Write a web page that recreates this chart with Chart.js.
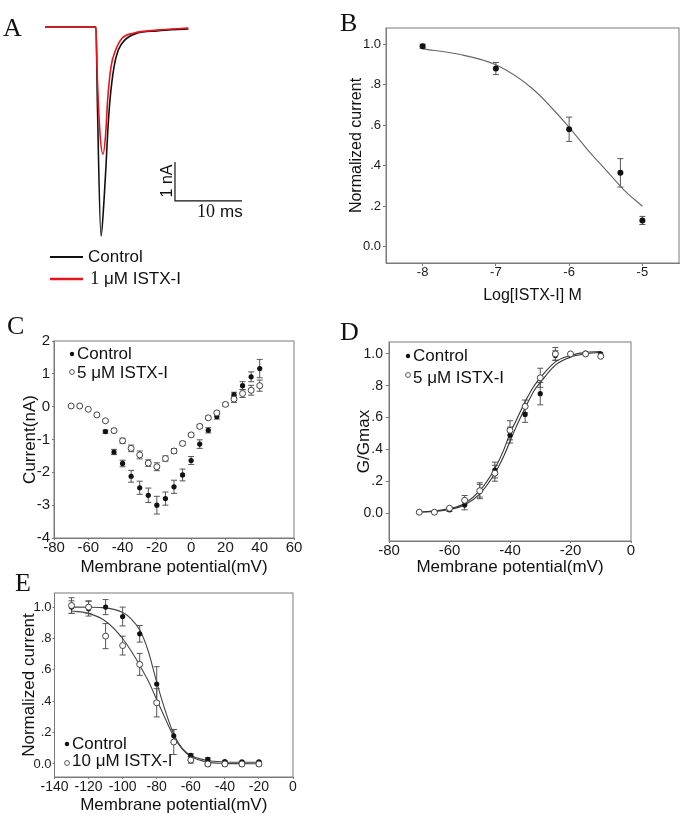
<!DOCTYPE html>
<html>
<head>
<meta charset="utf-8">
<script src="https://cdn.jsdelivr.net/npm/chart.js@4.4.1/dist/chart.umd.min.js"></script>
<style>
  html, body { margin: 0; background: #fff; }
  #page { position: relative; width: 685px; height: 819px; overflow: hidden; }
  #page canvas { position: absolute; left: 0; top: 0; }
</style>
</head>
<body>
<div id="page">
  <canvas id="panelA" width="685" height="819"></canvas>
  <canvas id="panelB" width="685" height="819"></canvas>
  <canvas id="panelC" width="685" height="819"></canvas>
  <canvas id="panelD" width="685" height="819"></canvas>
  <canvas id="panelE" width="685" height="819"></canvas>
</div>
<script>
// ---- A: sodium current traces (time in ms, current in nA)
var traceTimeCtrl = [0, 7.61, 7.81, 8.36, 8.81, 9.1, 9.35, 9.7, 10.3, 10.94, 11.94, 13.7, 16.7, 21.4];
var traceCtrl = [0, 0, -1.87, -5.36, -4.44, -3.58, -2.73, -1.87, -1.02, -0.59, -0.33, -0.16, -0.1, -0.05];
var traceTimeToxin = [0, 7.61, 7.76, 8.21, 8.66, 9.06, 9.35, 9.85, 10.55, 11.44, 13.2, 16.7, 21.4];
var traceToxin = [0, 0, -1.02, -2.73, -3.26, -2.73, -1.87, -1.02, -0.59, -0.3, -0.16, -0.08, -0.03];
var scaleBarOrigin = [19.4, -4.46]; // ms, nA
var scaleBarMs = 10;
var scaleBarNa = 1;

// ---- B: dose response
var logConc = [-8, -7, -6, -5.3, -5];
var doseCurrent = [0.99, 0.88, 0.58, 0.365, 0.13];
var doseErr = [0.01, 0.03, 0.06, 0.07, 0.02];
var doseFitX = [-8, -7.5, -7, -6.5, -6, -5.75, -5.5, -5.25, -5];
var doseFitY = [0.977, 0.95, 0.898, 0.78, 0.59, 0.48, 0.38, 0.28, 0.2];
var bTicksX = [-8, -7, -6, -5];
var bTicksY = [0, 0.2, 0.4, 0.6, 0.8, 1.0];
var bLabelsY = ["0.0", ".2", ".4", ".6", ".8", "1.0"];

// ---- C: I-V relationship
var ivVolt = [-70, -65, -60, -55, -50, -45, -40, -35, -30, -25, -20, -15, -10, -5, 0, 5, 10, 15, 20, 25, 30, 35, 40];
var ivCtrl = [0.02, 0.02, -0.08, -0.25, -0.76, -1.38, -1.73, -2.12, -2.47, -2.7, -3.0, -2.8, -2.44, -2.08, -1.64, -1.14, -0.72, -0.3, 0.07, 0.37, 0.64, 0.91, 1.16];
var ivCtrlErr = [0, 0, 0, 0, 0.05, 0.08, 0.1, 0.18, 0.2, 0.22, 0.27, 0.2, 0.2, 0.18, 0.12, 0.13, 0.08, 0.08, 0.05, 0.07, 0.12, 0.15, 0.28];
var ivToxin = [0.02, 0.02, -0.08, -0.25, -0.43, -0.73, -1.04, -1.27, -1.47, -1.72, -1.83, -1.58, -1.35, -1.12, -0.86, -0.6, -0.34, -0.19, 0.07, 0.23, 0.4, 0.5, 0.64];
var ivToxinErr = [0, 0, 0, 0, 0.03, 0.05, 0.08, 0.1, 0.12, 0.1, 0.12, 0.08, 0.07, 0.06, 0.05, 0.05, 0.05, 0.05, 0.04, 0.1, 0.12, 0.15, 0.17];
var cTicksX = [-80, -60, -40, -20, 0, 20, 40, 60];
var cTicksY = [-4, -3, -2, -1, 0, 1, 2];

// ---- D: activation (G/Gmax)
var actVolt = [-70, -65, -60, -55, -50, -45, -40, -35, -30, -25, -20, -15, -10];
var actCtrl = [0.005, 0.005, 0.02, 0.05, 0.14, 0.27, 0.49, 0.62, 0.75, 0.99, 1.0, 1.005, 1.0];
var actCtrlErr = [0, 0, 0.01, 0.03, 0.05, 0.05, 0.05, 0.05, 0.07, 0.03, 0, 0, 0];
var actToxin = [0.005, 0.005, 0.03, 0.08, 0.14, 0.25, 0.52, 0.67, 0.85, 1.0, 1.0, 1.0, 0.985];
var actToxinErr = [0, 0, 0, 0.03, 0.04, 0.05, 0.06, 0.04, 0.06, 0.04, 0, 0, 0];
var actFitX = [-70, -65, -60, -55, -50, -45, -42, -40, -38, -35, -32, -30, -25, -20, -15, -10];
var actFitCtrl = [0.005, 0.01, 0.022, 0.05, 0.12, 0.25, 0.36, 0.45, 0.54, 0.66, 0.77, 0.82, 0.93, 0.98, 1.0, 1.01];
var actFitToxin = [0.006, 0.012, 0.028, 0.06, 0.14, 0.28, 0.4, 0.5, 0.58, 0.7, 0.8, 0.85, 0.95, 0.99, 1.01, 1.015];
var dTicksX = [-80, -60, -40, -20, 0];
var dTicksY = [0, 0.2, 0.4, 0.6, 0.8, 1.0];
var dLabelsY = ["0.0", ".2", ".4", ".6", ".8", "1.0"];

// ---- E: steady-state inactivation
var inactVolt = [-130, -120, -110, -100, -90, -80, -70, -60, -50, -40, -30, -20];
var inactCtrl = [1.0, 0.99, 1.0, 0.94, 0.83, 0.51, 0.18, 0.055, 0.03, 0.015, 0.013, 0.013];
var inactCtrlErr = [0.04, 0.047, 0.048, 0.06, 0.053, 0.11, 0.04, 0.01, 0.01, 0.005, 0.005, 0.005];
var inactToxin = [1.01, 1.0, 0.815, 0.755, 0.635, 0.39, 0.14, 0.025, 0.0, 0.0, 0.0, 0.0];
var inactToxinErr = [0.05, 0.04, 0.08, 0.06, 0.07, 0.09, 0.08, 0.02, 0.012, 0.012, 0.012, 0.012];
var inactFitX = [-130, -120, -110, -100, -95, -90, -85, -80, -75, -70, -65, -60, -50, -40, -30, -20];
var inactFitCtrl = [1.0, 0.999, 0.995, 0.965, 0.925, 0.855, 0.72, 0.52, 0.34, 0.19, 0.1, 0.055, 0.022, 0.013, 0.011, 0.011];
var inactFitToxin = [0.975, 0.96, 0.91, 0.8, 0.72, 0.63, 0.53, 0.41, 0.29, 0.175, 0.095, 0.048, 0.012, 0.004, 0.002, 0.001];
var eTicksX = [-140, -120, -100, -80, -60, -40, -20, 0];
var eTicksY = [0, 0.2, 0.4, 0.6, 0.8, 1.0];
var eLabelsY = ["0.0", ".2", ".4", ".6", ".8", "1.0"];

var W = 685, H = 819;
var SANS = '"Liberation Sans", Arial, sans-serif';
var SERIF = '"Liberation Serif", "Times New Roman", serif';
var FRAME = "#7a7a7a";

function pts(xs, ys) {
  return xs.map(function (x, i) { return { x: x, y: ys[i] }; });
}

// box around the plot area
Chart.register({
  id: "frame",
  beforeDatasetsDraw: function (chart, args, opts) {
    if (!opts.on) return;
    var a = chart.chartArea, ctx = chart.ctx;
    ctx.save();
    ctx.strokeStyle = FRAME;
    ctx.lineWidth = 1;
    ctx.strokeRect(a.left, a.top, a.right - a.left, a.bottom - a.top);
    ctx.restore();
  }
});

// vertical error bars, read from dataset.errors
Chart.register({
  id: "errorBars",
  beforeDatasetsDraw: function (chart) {
    var ctx = chart.ctx, xs = chart.scales.x, ys = chart.scales.y;
    chart.data.datasets.forEach(function (ds) {
      if (!ds.errors) return;
      ctx.save();
      ctx.strokeStyle = "#555";
      ctx.lineWidth = 1;
      ds.data.forEach(function (p, j) {
        var e = ds.errors[j];
        if (!e) return;
        var px = xs.getPixelForValue(p.x);
        var y1 = ys.getPixelForValue(p.y + e);
        var y2 = ys.getPixelForValue(p.y - e);
        ctx.beginPath();
        ctx.moveTo(px, y1); ctx.lineTo(px, y2);
        ctx.moveTo(px - 3, y1); ctx.lineTo(px + 3, y1);
        ctx.moveTo(px - 3, y2); ctx.lineTo(px + 3, y2);
        ctx.stroke();
      });
      ctx.restore();
    });
  }
});

// free text, legend marks, panel letters
function notes(items) {
  return {
    id: "notes",
    afterDraw: function (chart) {
      var ctx = chart.ctx;
      items.forEach(function (it) {
        ctx.save();
        if (it.t === "text") {
          ctx.font = it.font;
          ctx.fillStyle = it.color || "#111";
          ctx.textAlign = it.align || "left";
          ctx.textBaseline = it.base || "middle";
          ctx.translate(it.x, it.y);
          if (it.rot) ctx.rotate(it.rot);
          ctx.fillText(it.s, 0, 0);
        } else if (it.t === "dot") {
          ctx.beginPath();
          ctx.arc(it.x, it.y, it.r, 0, Math.PI * 2);
          if (it.fill) { ctx.fillStyle = it.fill; ctx.fill(); }
          if (it.stroke) { ctx.strokeStyle = it.stroke; ctx.lineWidth = 1; ctx.stroke(); }
        } else if (it.t === "line") {
          ctx.beginPath();
          ctx.moveTo(it.x1, it.y1);
          ctx.lineTo(it.x2, it.y2);
          ctx.strokeStyle = it.color;
          ctx.lineWidth = it.w || 1;
          ctx.stroke();
        }
        ctx.restore();
      });
    }
  };
}

function axis(o) {
  return {
    type: "linear",
    min: o.min,
    max: o.max,
    display: !o.hidden,
    afterFit: function (s) {
      if (o.size == null) return;
      if (s.isHorizontal()) s.height = o.size; else s.width = o.size;
    },
    afterBuildTicks: function (s) {
      if (o.ticks) s.ticks = o.ticks.map(function (v) { return { value: v }; });
    },
    grid: { drawOnChartArea: false, color: FRAME, tickLength: o.tl || 2, tickWidth: 1 },
    border: { display: true, color: FRAME, width: 1 },
    ticks: {
      autoSkip: false,
      maxRotation: 0,
      padding: o.pad || 0,
      color: "#1a1a1a",
      font: { family: SANS, size: o.fs || 14, lineHeight: 1 },
      callback: function (v, i) { return o.labels ? o.labels[i] : String(v); }
    },
    title: {
      display: !!o.title,
      text: o.title,
      color: "#111",
      padding: 0,
      font: { family: SANS, size: o.tfs || 17 }
    }
  };
}

function panel(id, box, xo, yo, datasets, items) {
  return new Chart(document.getElementById(id), {
    type: "scatter",
    data: { datasets: datasets },
    options: {
      responsive: false,
      animation: false,
      events: [],
      layout: {
        padding: {
          left: box.l - (yo.size || 0),
          top: box.t,
          right: W - box.r,
          bottom: H - box.b - (xo.size || 0)
        }
      },
      scales: { x: axis(xo), y: axis(yo) },
      plugins: { legend: { display: false }, tooltip: { enabled: false }, frame: { on: !xo.hidden } }
    },
    plugins: [notes(items)]
  });
}

function filled(data, errs, r) {
  return { data: data, errors: errs, showLine: false, order: 1,
    pointRadius: r || 2.6, pointBackgroundColor: "#111", pointBorderWidth: 0 };
}
function hollow(data, errs) {
  return { data: data, errors: errs, showLine: false, order: 0,
    pointRadius: 3, pointBackgroundColor: "#fff", pointBorderColor: "#444", pointBorderWidth: 1 };
}
function fit(data, color) {
  return { data: data, showLine: true, order: 2, pointRadius: 0,
    borderColor: color || "#444", borderWidth: 1.1, cubicInterpolationMode: "monotone" };
}

// ---------- Panel A
var scaleBar = [
  { x: scaleBarOrigin[0], y: scaleBarOrigin[1] + scaleBarNa },
  { x: scaleBarOrigin[0], y: scaleBarOrigin[1] },
  { x: scaleBarOrigin[0] + scaleBarMs, y: scaleBarOrigin[1] }
];
panel("panelA", { l: 45, r: 246, t: 19.2, b: 241.5 },
  { min: 0, max: 30, hidden: true },
  { min: -5.5, max: 0.2, hidden: true },
  [
    { data: pts(traceTimeToxin, traceToxin), showLine: true, order: 0, pointRadius: 0,
      borderColor: "#e8141b", borderWidth: 1.6, cubicInterpolationMode: "monotone" },
    { data: pts(traceTimeCtrl, traceCtrl), showLine: true, order: 1, pointRadius: 0,
      borderColor: "#111", borderWidth: 1.6, cubicInterpolationMode: "monotone" },
    { data: scaleBar, showLine: true, order: 2, pointRadius: 0, borderColor: "#111", borderWidth: 1.2 }
  ],
  [
    { t: "text", s: "A", x: 3, y: 36, base: "alphabetic", font: "26px " + SERIF },
    { t: "text", s: "1 nA", x: 168, y: 181, align: "center", rot: -Math.PI / 2, font: "16px " + SANS },
    { t: "text", s: "10", x: 197, y: 212, font: "18px " + SERIF },
    { t: "text", s: "ms", x: 220, y: 212, font: "17px " + SANS },
    { t: "line", x1: 50, y1: 257, x2: 83, y2: 257, color: "#111", w: 2 },
    { t: "text", s: "Control", x: 88, y: 257, font: "17px " + SANS },
    { t: "line", x1: 50, y1: 279, x2: 83, y2: 279, color: "#e8141b", w: 2.5 },
    { t: "text", s: "1", x: 90, y: 279, font: "19px " + SERIF },
    { t: "text", s: "\u03bcM ISTX-I", x: 104, y: 279, font: "17px " + SANS }
  ]);

// ---------- Panel B
panel("panelB", { l: 386, r: 679, t: 28, b: 263 },
  { min: -8.5, max: -4.5, ticks: bTicksX, size: 42.6, tl: 3, pad: 0, fs: 13, tfs: 16, title: "Log[ISTX-I] M" },
  { min: -0.08, max: 1.08, ticks: bTicksY, labels: bLabelsY, size: 38.6, tl: 3, pad: 2, fs: 13, tfs: 16, title: "Normalized current" },
  [
    filled(pts(logConc, doseCurrent), doseErr, 3),
    fit(pts(doseFitX, doseFitY), "#666")
  ],
  [
    { t: "text", s: "B", x: 340, y: 31, base: "alphabetic", font: "26px " + SERIF }
  ]);

// ---------- Panel C
panel("panelC", { l: 54, r: 294, t: 341, b: 538 },
  { min: -80, max: 60, ticks: cTicksX, size: 39.2, tl: 2, pad: 0, fs: 15, title: "Membrane potential(mV)" },
  { min: -4, max: 2, ticks: cTicksY, size: 33.7, tl: 2, pad: 2, fs: 15, title: "Current(nA)" },
  [
    hollow(pts(ivVolt, ivToxin), ivToxinErr),
    filled(pts(ivVolt, ivCtrl), ivCtrlErr)
  ],
  [
    { t: "text", s: "C", x: 7, y: 334, base: "alphabetic", font: "26px " + SERIF },
    { t: "dot", x: 72, y: 354, r: 2.2, fill: "#111" },
    { t: "text", s: "Control", x: 77, y: 354, font: "17px " + SANS },
    { t: "dot", x: 72, y: 372, r: 2.4, fill: "#fff", stroke: "#555" },
    { t: "text", s: "5 \u03bcM ISTX-I", x: 77, y: 373, font: "17px " + SANS }
  ]);

// ---------- Panel D
panel("panelD", { l: 389, r: 631, t: 342, b: 541 },
  { min: -80, max: 0, ticks: dTicksX, size: 36.2, tl: 2, pad: 0, fs: 15, title: "Membrane potential(mV)" },
  { min: -0.176, max: 1.075, ticks: dTicksY, labels: dLabelsY, size: 34.7, tl: 3, pad: 3, fs: 14, title: "G/Gmax" },
  [
    hollow(pts(actVolt, actToxin), actToxinErr),
    filled(pts(actVolt, actCtrl), actCtrlErr),
    fit(pts(actFitX, actFitCtrl), "#333"),
    fit(pts(actFitX, actFitToxin), "#333")
  ],
  [
    { t: "text", s: "D", x: 340, y: 340, base: "alphabetic", font: "26px " + SERIF },
    { t: "dot", x: 408, y: 356, r: 2.2, fill: "#111" },
    { t: "text", s: "Control", x: 413, y: 356, font: "17px " + SANS },
    { t: "dot", x: 408, y: 375, r: 2.4, fill: "#fff", stroke: "#555" },
    { t: "text", s: "5 \u03bcM ISTX-I", x: 413, y: 378, font: "17px " + SANS }
  ]);

// ---------- Panel E
panel("panelE", { l: 54.5, r: 293, t: 593, b: 777 },
  { min: -140, max: 0, ticks: eTicksX, size: 38.2, tl: 2, pad: 1, fs: 14, title: "Membrane potential(mV)" },
  { min: -0.083, max: 1.09, ticks: eTicksY, labels: eLabelsY, size: 35.2, tl: 2, pad: 1, fs: 13, title: "Normalized current" },
  [
    hollow(pts(inactVolt, inactToxin), inactToxinErr),
    filled(pts(inactVolt, inactCtrl), inactCtrlErr),
    fit(pts(inactFitX, inactFitCtrl), "#444"),
    fit(pts(inactFitX, inactFitToxin), "#444")
  ],
  [
    { t: "text", s: "E", x: 15, y: 591, base: "alphabetic", font: "26px " + SERIF },
    { t: "dot", x: 67, y: 744, r: 2.2, fill: "#111" },
    { t: "text", s: "Control", x: 72, y: 744, font: "17px " + SANS },
    { t: "dot", x: 67, y: 763, r: 2.4, fill: "#fff", stroke: "#555" },
    { t: "text", s: "10 \u03bcM ISTX-I", x: 72, y: 761, font: "17px " + SANS }
  ]);
</script>
</body>
</html>
